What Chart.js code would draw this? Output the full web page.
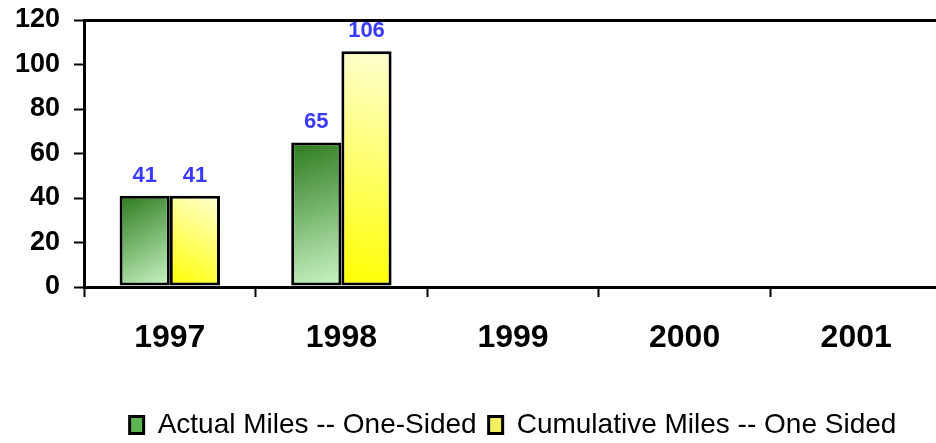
<!DOCTYPE html>
<html>
<head>
<meta charset="utf-8">
<script src="https://cdn.jsdelivr.net/npm/chart.js@4/dist/chart.umd.min.js"></script>
<style>
  html, body { margin: 0; padding: 0; background: #fff; overflow: hidden; }
  #wrap { width: 942px; height: 443px; }
</style>
</head>
<body>
<div id="wrap"><canvas id="milesChart"></canvas></div>
<script>
const years = ['1997', '1998', '1999', '2000', '2001'];
const actualMiles = [41, 65, null, null, null];
const cumulativeMiles = [41, 106, null, null, null];
const yTicks = [0, 20, 40, 60, 80, 100, 120];

const FONT = "'Liberation Sans', Arial, sans-serif";
const CAT_PCT = 0.585;

// diagonal gradient over one bar
function barFill(c0, c1, fromBottom) {
  return function(ctx) {
    const chart = ctx.chart;
    if (!chart.chartArea || ctx.type !== 'data') return c1;
    const xs = chart.scales.x, ys = chart.scales.y;
    const v = ctx.raw;
    if (v == null) return c1;
    const catW = xs.width / years.length;
    const barW = catW * CAT_PCT / 2;
    const cx = xs.getPixelForValue(ctx.dataIndex);
    const left = cx - barW + ctx.datasetIndex * barW;
    const right = left + barW;
    const top = ys.getPixelForValue(v);
    const bottom = ys.getPixelForValue(0);
    const g = fromBottom
      ? chart.ctx.createLinearGradient(left, bottom, right, top)
      : chart.ctx.createLinearGradient(left, top, right, bottom);
    g.addColorStop(0, c0);
    g.addColorStop(1, c1);
    return g;
  };
}

const valueLabels = {
  id: 'valueLabels',
  afterDatasetsDraw(chart) {
    const ctx = chart.ctx;
    ctx.save();
    ctx.fillStyle = '#3a3aff';
    ctx.font = 'bold 22px ' + FONT;
    ctx.textAlign = 'center';
    ctx.textBaseline = 'bottom';
    chart.data.datasets.forEach((ds, i) => {
      chart.getDatasetMeta(i).data.forEach((bar, j) => {
        if (ds.data[j] == null) return;
        ctx.fillText(ds.data[j], bar.x, bar.y - 9);
      });
    });
    ctx.restore();
  }
};

new Chart(document.getElementById('milesChart'), {
  type: 'bar',
  data: {
    labels: years,
    datasets: [
      {
        label: 'Actual Miles -- One-Sided',
        data: actualMiles,
        backgroundColor: barFill('#2c7a1e', '#cbf7c6', false),
        borderColor: '#000',
        borderWidth: 3,
        borderSkipped: false
      },
      {
        label: 'Cumulative Miles -- One Sided',
        data: cumulativeMiles,
        backgroundColor: barFill('#ffff00', '#ffffd2', true),
        borderColor: '#000',
        borderWidth: 3,
        borderSkipped: false
      }
    ]
  },
  options: {
    responsive: true,
    maintainAspectRatio: false,
    animation: false,
    datasets: { bar: { categoryPercentage: CAT_PCT, barPercentage: 1 } },
    layout: { padding: { top: 20, left: 0, right: 0, bottom: -6 } },
    plugins: {
      tooltip: { enabled: false },
      legend: {
        position: 'bottom',
        fullSize: false,
        labels: {
          color: '#000',
          font: { family: FONT, size: 28 },
          boxWidth: 14,
          boxHeight: 17,
          padding: 12,
          generateLabels(chart) {
            return chart.data.datasets.map((ds, i) => ({
              text: ds.label,
              fillStyle: i === 0 ? '#5db552' : '#f4f060',
              strokeStyle: '#000',
              lineWidth: 3,
              datasetIndex: i
            }));
          }
        }
      }
    },
    scales: {
      x: {
        afterFit(scale) { scale.height = 112; },
        grid: { drawOnChartArea: false, tickLength: 10, tickColor: '#000', tickWidth: 2 },
        border: { color: '#000', width: 3 },
        ticks: { color: '#000', padding: 22, font: { family: FONT, size: 32, weight: 'bold' } }
      },
      y: {
        min: 0,
        max: 120,
        afterFit(scale) {
          scale.width = 84;
          scale.paddingTop = 10;
          scale.paddingBottom = 10;
        },
        afterBuildTicks(scale) { scale.ticks = yTicks.map(v => ({ value: v })); },
        grid: {
          color: c => (c.tick && c.tick.value === 120 ? '#000' : 'rgba(0,0,0,0)'),
          lineWidth: 3,
          tickLength: 10,
          tickColor: '#000',
          tickWidth: 2
        },
        border: { color: '#000', width: 3 },
        ticks: { color: '#000', padding: 14, font: { family: FONT, size: 27, weight: 'bold' } }
      }
    }
  },
  plugins: [valueLabels]
});
</script>
</body>
</html>
